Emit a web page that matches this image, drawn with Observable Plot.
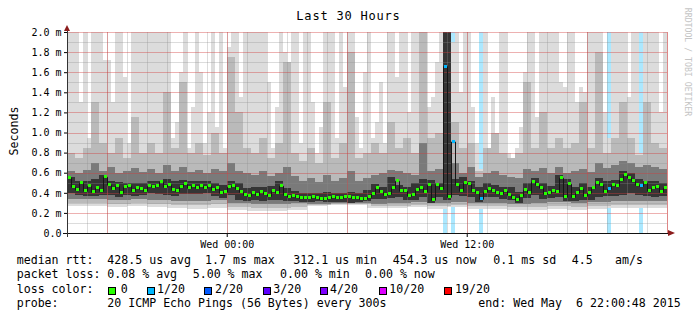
<!DOCTYPE html>
<html><head><meta charset="utf-8">
<script src="https://cdn.jsdelivr.net/npm/d3@7"></script>
<script src="https://cdn.jsdelivr.net/npm/@observablehq/plot@0.6"></script>
<style>
body{margin:0;background:#fff;}
#wrap{position:relative;width:697px;height:321px;overflow:hidden;background:#fff;font-family:"DejaVu Sans Mono",monospace;color:#000;}
#wrap svg{position:absolute;left:0;top:0;}
.abs{position:absolute;white-space:pre;line-height:1;}
#title{left:0;width:697px;top:10px;text-align:center;font-size:12px;letter-spacing:0.8px;}
#ylab{left:15px;top:131px;font-size:11.6px;transform:translate(-50%,-50%) rotate(-90deg);}
#wm{left:687.5px;top:62px;font-size:8.2px;color:#c4c4c4;transform:translate(-50%,-50%) rotate(90deg);}
.lg{font-size:11.6px;}
.sw{position:absolute;width:6px;height:6px;border:1px solid #000;}
</style>
</head><body>
<div id="wrap"></div>
<script>
// ---------- data ----------
const endTime = Date.UTC(2015, 4, 6, 22, 0, 48);   // Wed May 6 22:00:48 2015
const spanHours = 30;
const binMinutes = 12;    // resolution of median / pingMax
const bandMinutes = 24;   // resolution of band arrays
const hourMinutes = 60;   // resolution of lower bounds

// median rtt in ms, one per 12 min
const median = [
 0.55,0.46,0.43,0.50,0.42,0.47,0.41,0.45,0.42,0.56,
 0.48,0.44,0.47,0.40,0.46,0.47,0.42,0.45,0.44,0.42,
 0.47,0.46,0.47,0.51,0.46,0.48,0.43,0.42,0.46,0.49,
 0.45,0.47,0.45,0.47,0.45,0.47,0.43,0.45,0.40,0.41,
 0.46,0.47,0.44,0.41,0.38,0.37,0.40,0.38,0.41,0.39,
 0.37,0.42,0.40,0.47,0.38,0.36,0.37,0.36,0.35,0.35,
 0.35,0.36,0.35,0.34,0.34,0.35,0.36,0.35,0.35,0.36,
 0.36,0.35,0.35,0.34,0.34,0.36,0.39,0.45,0.41,0.38,
 0.39,0.45,0.52,0.42,0.42,0.37,0.38,0.43,0.45,0.41,
 0.48,0.33,0.48,0.44,1.66,0.36,0.91,0.48,0.42,0.50,
 0.49,0.42,0.40,0.34,0.41,0.44,0.42,0.40,0.39,0.42,
 0.38,0.35,0.33,0.37,0.43,0.40,0.51,0.48,0.45,0.39,
 0.40,0.42,0.41,0.55,0.36,0.49,0.36,0.40,0.44,0.37,
 0.40,0.45,0.50,0.48,0.41,0.44,0.48,0.47,0.53,0.58,
 0.55,0.52,0.48,0.47,0.50,0.42,0.45,0.46,0.41,0.45
];
// highest ping per 12 min (values above 2.0 run off the top)
const pingMax = [
 2.2,2.2,2.2,1.30,2.2,0.95,2.2,2.2,2.2,1.72,
 1.72,1.30,2.2,2.2,1.55,0.90,2.2,2.2,2.2,2.2,
 2.2,2.2,2.2,2.2,2.2,2.2,0.95,1.10,1.60,2.2,
 0.85,1.25,2.2,1.60,0.90,1.20,2.2,1.05,2.2,0.85,
 1.85,2.2,2.2,1.35,2.2,2.2,2.2,2.2,2.2,2.2,
 1.50,0.85,1.25,2.2,1.80,1.70,2.2,2.2,0.90,2.2,
 2.2,1.30,0.80,1.05,2.2,2.2,2.2,0.95,2.2,1.45,
 2.2,2.2,1.15,0.85,1.60,2.2,0.95,1.10,1.50,0.90,
 2.2,2.2,1.55,2.2,2.2,1.20,2.2,2.2,2.2,2.2,
 1.25,1.35,1.70,2.2,2.2,2.2,1.90,2.2,1.40,2.2,
 2.2,1.25,0.90,0.64,2.2,0.85,1.35,1.00,2.2,2.2,
 0.80,0.75,0.85,1.05,1.60,2.2,2.2,1.15,2.2,2.2,
 2.2,2.2,2.2,1.50,1.45,2.2,2.2,1.30,1.45,1.40,
 2.2,2.2,2.2,2.2,1.20,0.95,2.2,2.2,2.2,2.2,
 1.35,2.2,2.2,0.80,2.2,2.2,2.2,2.2,1.20,2.2
];
// 12-min bins with packet loss, and lost pings out of 20
const lossBins = [94, 96, 103, 135, 143];
const lossCounts = [1, 1, 1, 1, 1];

// upper bounds per 24 min
const pingHigh = [
 0.80,0.75,0.85,1.30,0.90,0.80,0.95,0.75,1.15,0.80,
 0.90,0.80,1.40,0.85,1.50,0.80,0.90,0.78,1.00,0.80,
 1.75,1.20,0.85,0.80,0.95,0.75,0.90,1.70,0.80,0.72,
 0.85,0.70,1.30,0.75,0.90,1.80,0.75,0.80,0.90,0.80,
 1.10,0.85,0.95,0.80,2.20,0.95,1.00,2.20,1.10,0.85,
 0.90,0.62,0.85,1.00,0.80,0.75,0.80,1.50,0.85,1.20,
 0.85,0.95,0.85,0.90,1.30,0.85,1.80,0.80,0.95,1.30,
 0.95,0.78,1.30,0.90,0.85
];
const quartHigh = [
 0.62,0.60,0.63,0.70,0.62,0.66,0.60,0.62,0.65,0.61,
 0.64,0.60,0.68,0.62,0.66,0.61,0.63,0.60,0.64,0.62,
 0.70,0.62,0.60,0.58,0.62,0.57,0.60,0.66,0.57,0.52,
 0.55,0.51,0.58,0.52,0.55,0.62,0.52,0.55,0.58,0.60,
 0.63,0.62,0.60,0.58,0.90,0.62,0.64,2.20,0.70,0.60,
 0.66,0.56,0.60,0.62,0.58,0.56,0.55,0.64,0.62,0.65,
 0.60,0.66,0.60,0.62,0.64,0.61,0.70,0.65,0.68,0.72,
 0.70,0.66,0.68,0.66,0.64
];
const coreHigh = [
 0.56,0.52,0.52,0.54,0.58,0.52,0.51,0.50,0.50,0.50,
 0.52,0.52,0.54,0.52,0.53,0.52,0.52,0.52,0.50,0.48,
 0.52,0.50,0.45,0.46,0.46,0.47,0.52,0.45,0.42,0.40,
 0.40,0.40,0.41,0.40,0.40,0.41,0.40,0.43,0.49,0.46,
 0.56,0.48,0.46,0.50,0.54,0.53,0.50,2.20,0.54,0.56,
 0.52,0.46,0.50,0.48,0.46,0.46,0.41,0.50,0.55,0.50,
 0.47,0.58,0.54,0.46,0.50,0.46,0.55,0.52,0.53,0.62,
 0.60,0.54,0.52,0.52,0.50
];
const coreLow = [
 0.40,0.38,0.37,0.37,0.38,0.38,0.36,0.38,0.37,0.38,
 0.40,0.39,0.38,0.37,0.39,0.39,0.39,0.40,0.37,0.35,
 0.38,0.33,0.32,0.33,0.32,0.33,0.33,0.32,0.32,0.31,
 0.31,0.32,0.31,0.31,0.31,0.30,0.31,0.32,0.34,0.34,
 0.35,0.36,0.33,0.33,0.36,0.30,0.36,0.33,0.38,0.37,
 0.36,0.31,0.36,0.36,0.34,0.33,0.30,0.35,0.38,0.34,
 0.35,0.36,0.32,0.32,0.33,0.33,0.36,0.37,0.37,0.38,
 0.40,0.38,0.37,0.36,0.37
];
// lower bounds per hour
const quartLow = [0.34,0.34,0.33,0.34,0.33,0.32,0.32,0.33,0.30,0.29,0.29,0.30,0.29,0.30,0.30,0.29,0.30,0.31,0.30,0.31,0.30,0.30,0.29,0.30,0.31,0.30,0.31,0.32,0.32,0.32];
const pingLow  = [0.30,0.30,0.29,0.30,0.29,0.28,0.28,0.29,0.26,0.25,0.25,0.26,0.28,0.29,0.29,0.27,0.27,0.28,0.27,0.28,0.27,0.27,0.26,0.26,0.27,0.26,0.27,0.28,0.28,0.28];
const pingMin  = [0.27,0.27,0.26,0.27,0.26,0.25,0.24,0.25,0.23,0.22,0.22,0.23,0.27,0.28,0.28,0.25,0.25,0.26,0.24,0.26,0.24,0.24,0.23,0.23,0.24,0.23,0.24,0.25,0.25,0.25];

// axis ticks
const yTicks = [0,0.2,0.4,0.6,0.8,1.0,1.2,1.4,1.6,1.8,2.0];
const yTickLabels = ["0.0","0.2 m","0.4 m","0.6 m","0.8 m","1.0 m","1.2 m","1.4 m","1.6 m","1.8 m","2.0 m"];
const xTickTimes = [Date.UTC(2015,4,6,0,0), Date.UTC(2015,4,6,12,0)];
const xTickLabels = ["Wed 00:00", "Wed 12:00"];
const lastHourMark = [Date.UTC(2015,4,6,22,0)];

// legend
const lossLevels = ["0","1/20","2/20","3/20","4/20","10/20","19/20"];
const lossLevelCounts = [0,1,2,3,4,10,19];
const lossColors = ["#26ff00","#00b8ff","#0059ff","#5e00ff","#7e00ff","#dd00ff","#ff0000"];
const titleText = "Last 30 Hours";
const yLabel = "Seconds";
const watermark = "RRDTOOL / TOBI OETIKER";
const legendRtt = [["median rtt:",16.7],["428.5 us avg",107.3],["1.7 ms max",205],["312.1 us min",293.3],["454.3 us now",392.7],["0.1 ms sd",493.3],["4.5",571.7],["am/s",615]];
const legendLoss = [["packet loss:",16.7],["0.08 % avg",107.3],["5.00 % max",192.7],["0.00 % min",280],["0.00 % now",365]];
const legendProbe = [["probe:",16.7],["20 ICMP Echo Pings (56 Bytes) every 300s",107.3],["end: Wed May  6 22:00:48 2015",478.3]];

// ---------- build ----------
const MIN = 60e3;
const startTime = endTime - spanHours * 60 * MIN;
const lossColorOf = c => lossColors[lossLevelCounts.indexOf(c)];
const fine = median.map((m, i) => {
  const k = lossBins.indexOf(i);
  return {
    t0: new Date(startTime + i * binMinutes * MIN),
    t1: new Date(startTime + (i + 1) * binMinutes * MIN),
    tc: new Date(startTime + (i + 0.5) * binMinutes * MIN),
    median: m, max: pingMax[i],
    min: pingMin[Math.floor(i * binMinutes / hourMinutes)],
    loss: k < 0 ? 0 : lossCounts[k]
  };
});
const band = pingHigh.map((v, j) => {
  const h = Math.floor(j * bandMinutes / hourMinutes);
  return {
    t0: new Date(startTime + j * bandMinutes * MIN),
    t1: new Date(startTime + (j + 1) * bandMinutes * MIN),
    pHigh: v, pLow: pingLow[h], qHigh: quartHigh[j], qLow: quartLow[h],
    cHigh: coreHigh[j], cLow: coreLow[j]
  };
});
const lossRows = fine.filter(d => d.loss > 0);
const x0 = new Date(startTime), x1 = new Date(endTime);
const hourTimes = d3.utcHour.range(x0, x1);
const majorTimes = d3.utcHour.every(6).range(x0, x1);
const minorY = d3.range(1, 20, 2).map(v => v / 10);
const majorY = yTicks.slice(1);
const yLabelMap = new Map(yTicks.map((v, i) => [v, yTickLabels[i]]));
const xLabelMap = new Map(xTickTimes.map((v, i) => [v, xTickLabels[i]]));
const yDom = [yTicks[0], yTicks[yTicks.length - 1]];

const crisp = {shapeRendering: "crispEdges", clip: true};
const chart = Plot.plot({
  width: 697, height: 256,
  marginLeft: 67, marginRight: 30, marginTop: 32, marginBottom: 23,
  style: {fontFamily: "'DejaVu Sans Mono', monospace", fontSize: "10px", background: "transparent", color: "#000", overflow: "visible"},
  x: {type: "utc", domain: [x0, x1], ticks: xTickTimes.map(t => new Date(t)), tickFormat: d => xLabelMap.get(+d), tickSize: 4, tickPadding: 3, label: null},
  y: {domain: yDom, ticks: yTicks, tickFormat: d => yLabelMap.get(d), tickSize: 3, tickPadding: 3, label: null},
  marks: [
    Plot.rect(lossRows, {x1: "t0", x2: "t1", y1: () => yDom[0], y2: () => yDom[1], fill: d => lossColorOf(d.loss), fillOpacity: 0.33, ...crisp}),
    Plot.rect(fine, {x1: "t0", x2: "t1", y1: "min", y2: "max", fill: "#dcdcdc", ...crisp}),
    Plot.rect(band, {x1: "t0", x2: "t1", y1: "pLow", y2: "pHigh", fill: "#bababa", ...crisp}),
    Plot.rect(band, {x1: "t0", x2: "t1", y1: "qLow", y2: "qHigh", fill: "#7a7a7a", ...crisp}),
    Plot.rect(band, {x1: "t0", x2: "t1", y1: "cLow", y2: "cHigh", fill: "#353535", ...crisp}),
    Plot.ruleX(hourTimes, {stroke: "#8c8c8c", strokeOpacity: 0.3, shapeRendering: "crispEdges"}),
    Plot.ruleY(minorY, {stroke: "#8c8c8c", strokeOpacity: 0.3, shapeRendering: "crispEdges"}),
    Plot.ruleX(majorTimes, {stroke: "#d23c3c", strokeOpacity: 0.4, shapeRendering: "crispEdges"}),
    Plot.ruleX(lastHourMark.map(t => new Date(t)), {stroke: "#e03030", strokeOpacity: 0.5, shapeRendering: "crispEdges"}),
    Plot.ruleY(majorY, {stroke: "#d23c3c", strokeOpacity: 0.4, shapeRendering: "crispEdges"}),
    Plot.line(fine, {x: "tc", y: "median", curve: "step", stroke: "#151515", strokeWidth: 1, clip: true}),
    Plot.rect(fine, {x1: "t0", x2: "t1", y1: "median", y2: "median", insetLeft: 0.5, insetRight: 0.5, insetTop: -1.5, insetBottom: -1.5,
      fill: d => lossColorOf(d.loss), shapeRendering: "crispEdges", clip: true}),
    Plot.ruleY([yDom[0]], {stroke: "#111", insetLeft: -4, insetRight: -2, shapeRendering: "crispEdges"}),
    Plot.ruleX([x0], {stroke: "#333", insetTop: -4, insetBottom: -4, shapeRendering: "crispEdges"})
  ]
});
const wrap = document.getElementById("wrap");
wrap.appendChild(chart);

// axis arrow heads
const sx = chart.scale("x"), sy = chart.scale("y");
const ax = sx.apply(x1), ay = sy.apply(yDom[0]);
const bx = sx.apply(x0), by = sy.apply(yDom[1]);
const svg = d3.select(chart);
svg.append("polygon").attr("points", `${ax+1},${ay-3} ${ax+8},${ay} ${ax+1},${ay+3}`).attr("fill", "#8b1c1c");
svg.append("polygon").attr("points", `${bx-3},${by-1} ${bx},${by-7} ${bx+3},${by-1}`).attr("fill", "#8b1c1c");

// texts
function addText(id, text, cls) { const d = document.createElement("div"); if (id) d.id = id; d.className = "abs " + (cls || ""); d.textContent = text; wrap.appendChild(d); return d; }
addText("title", titleText);
addText("ylab", yLabel);
addText("wm", watermark);
const baselines = [264.3, 279, 293.3, 307.7];
const topOf = b => (b - 9.8) + "px";
function addRow(items, b) { items.forEach(([t, x]) => { const d = addText(null, t, "lg"); d.style.left = x + "px"; d.style.top = topOf(b); }); }
addRow(legendRtt, baselines[0]);
addRow(legendLoss, baselines[1]);
addRow([["loss color:", 16.7]], baselines[2]);
const swX = [108.3, 146.7, 204, 263.3, 320, 379.3, 444];
const lblX = [120.7, 157, 215, 273.3, 330, 389.3, 455];
lossLevels.forEach((lv, k) => {
  const s = document.createElement("div"); s.className = "sw";
  s.style.left = swX[k] + "px"; s.style.top = (baselines[2] - 6.5) + "px"; s.style.background = lossColors[k];
  wrap.appendChild(s);
  const d = addText(null, lv, "lg"); d.style.left = lblX[k] + "px"; d.style.top = topOf(baselines[2]);
});
addRow(legendProbe, baselines[3]);
</script>
</body></html>
